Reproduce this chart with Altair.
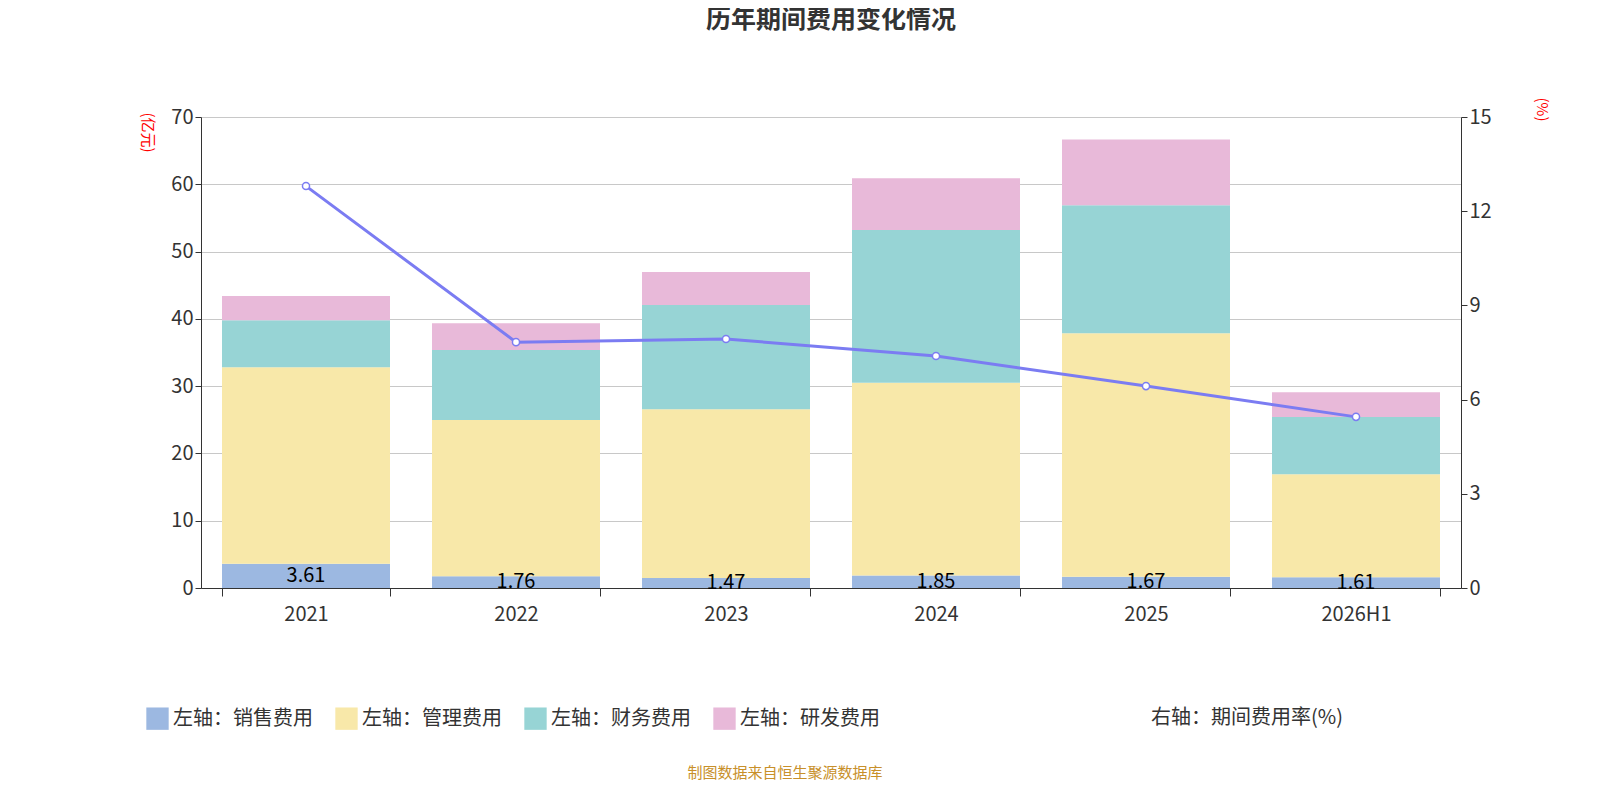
import altair as alt
import pandas as pd

years = ["2021", "2022", "2023", "2024", "2025", "2026H1"]
sales = [3.61, 1.76, 1.47, 1.85, 1.67, 1.61]
manage = [29.2, 23.2, 25.1, 28.65, 36.2, 15.3]
finance = [7.0, 10.4, 15.5, 22.7, 19.0, 8.5]
rnd = [3.6, 4.0, 4.9, 7.7, 9.8, 3.7]
rate = [12.8, 7.83, 7.93, 7.39, 6.43, 5.45]

names = ["左轴：销售费用", "左轴：管理费用", "左轴：财务费用", "左轴：研发费用"]
colors = ["#9cb8e1", "#f8e8a9", "#97d4d5", "#e8b9d9"]
line_name = "右轴：期间费用率(%)"
line_color = "#7b7cf2"

rows = []
for i, y in enumerate(years):
    for k, (n, vals) in enumerate(zip(names, [sales, manage, finance, rnd])):
        rows.append({"year": y, "type": n, "value": vals[i], "order": k})
bar_df = pd.DataFrame(rows)
sales_df = pd.DataFrame({"year": years, "sales": sales, "half": [s / 2 for s in sales],
                         "label": [f"{s:.2f}" for s in sales]})
rate_df = pd.DataFrame({"year": years, "rate": rate, "series": [line_name] * len(years)})

font = "Noto Sans CJK SC"
x_enc = alt.X("year:N", sort=years, title=None,
              scale=alt.Scale(paddingInner=0.2, paddingOuter=0.1),
              axis=alt.Axis(labelAngle=0, labelFontSize=20, labelColor="#333", labelPadding=8,
                            domainColor="#333", tickColor="#333", tickSize=8, tickBand="extent"))

left_y = alt.Scale(domain=[0, 70])
bars = alt.Chart(bar_df).mark_bar().encode(
    x=x_enc,
    y=alt.Y("sum(value):Q", scale=left_y, stack="zero",
            axis=alt.Axis(values=list(range(0, 71, 10)), title="(亿元)", titleColor="red",
                          titleFontSize=15, titleFontWeight="normal", titleAngle=90,
                          titleX=-62, titleY=-5, titleAlign="left", labelFontSize=20,
                          labelColor="#333", domainColor="#333", tickColor="#333",
                          gridColor="#c8c8c8", tickSize=6)),
    color=alt.Color("type:N", scale=alt.Scale(domain=names, range=colors),
                    legend=alt.Legend(title=None, orient="none", legendX=-55, legendY=590,
                                      direction="horizontal", symbolType="square",
                                      symbolSize=500, symbolStrokeWidth=0, labelFontSize=20,
                                      labelColor="#333", columnPadding=22, labelLimit=300)),
    order=alt.Order("order:Q"),
)
labels = alt.Chart(sales_df).mark_text(fontSize=20, color="black", baseline="middle").encode(
    x=alt.X("year:N", sort=years),
    y=alt.Y("half:Q", scale=left_y),
    text="label:N",
)
left = alt.layer(bars, labels)

right_y = alt.Scale(domain=[0, 15])
line = alt.Chart(rate_df).mark_line(color=line_color, strokeWidth=3).encode(
    x=alt.X("year:N", sort=years),
    y=alt.Y("rate:Q", scale=right_y,
            axis=alt.Axis(orient="right", values=[0, 3, 6, 9, 12, 15], grid=False,
                          title="(%)", titleColor="red", titleFontSize=15,
                          titleFontWeight="normal", titleAngle=90, titleX=72, titleY=-20,
                          titleAlign="left", labelFontSize=20, labelColor="#333",
                          domainColor="#333", tickColor="#333", tickSize=6)),
)
points = alt.Chart(rate_df).mark_point(filled=True, fill="white", stroke=line_color,
                                       strokeWidth=1.5, size=50, opacity=1).encode(
    x=alt.X("year:N", sort=years),
    y=alt.Y("rate:Q", scale=right_y),
    shape=alt.Shape("series:N", scale=alt.Scale(range=["circle"]),
                    legend=alt.Legend(title=None, orient="none", legendX=925, legendY=590,
                                      symbolSize=350, symbolStrokeColor=line_color,
                                      symbolFillColor="white", symbolStrokeWidth=2,
                                      labelFontSize=20, labelColor="#333", labelLimit=300)),
)
right = alt.layer(line, points)

footer = alt.Chart(pd.DataFrame({"t": ["制图数据来自恒生聚源数据库"]})).mark_text(
    fontSize=15, color="#c8902a").encode(
    x=alt.value(584), y=alt.value(656), text="t:N")

chart = alt.layer(left, right, footer).resolve_scale(y="independent").properties(
    width=1260, height=471,
    padding={"left": 193, "top": 109, "right": 110, "bottom": 196},
    autosize=alt.AutoSizeParams(type="none"),
    title=alt.TitleParams("历年期间费用变化情况", fontSize=25, fontWeight="bold",
                          color="#333", anchor="middle", offset=64, font=font),
).configure(font=font).configure_view(stroke=None)

chart.save("out.html", embed_options={"renderer": "svg", "actions": False})
